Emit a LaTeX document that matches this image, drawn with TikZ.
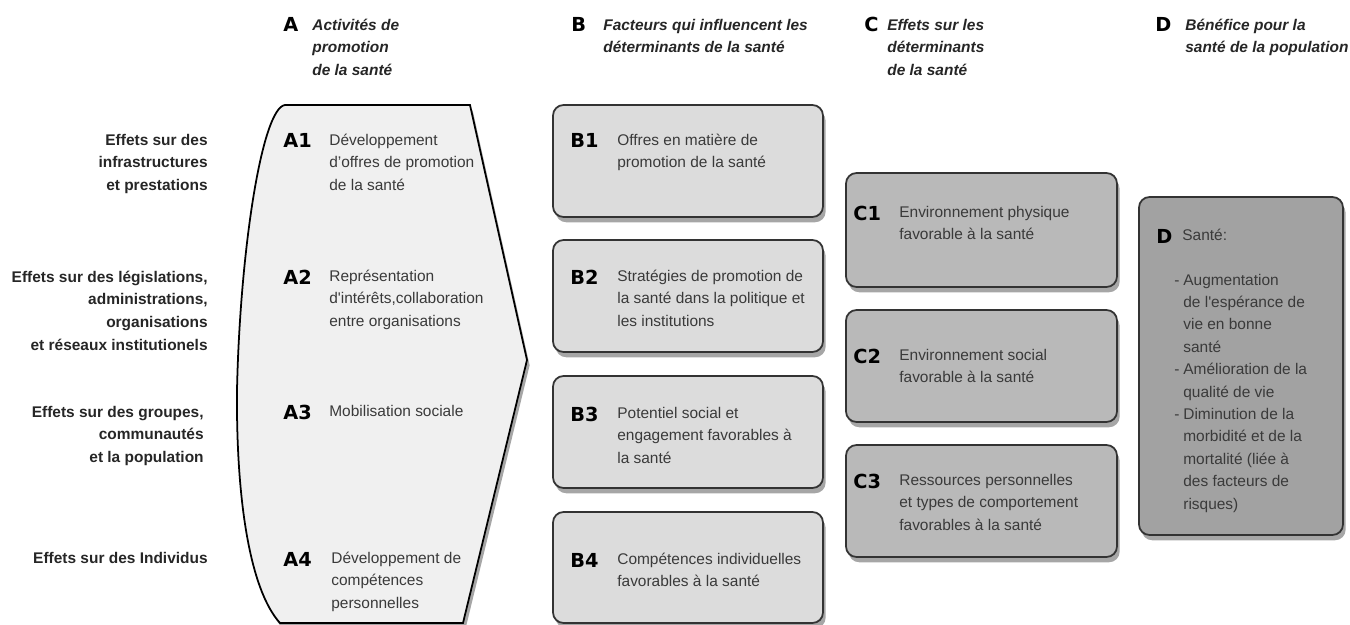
\documentclass[tikz,border=0pt]{standalone}
\usepackage{fontspec}
\setmainfont{Liberation Sans}
\newfontfamily\heavy{DejaVu Sans}
\usetikzlibrary{shadows,fit}
\definecolor{afill}{HTML}{F0F0F0}
\definecolor{bfill}{HTML}{DCDCDC}
\definecolor{cfill}{HTML}{B9B9B9}
\definecolor{dfill}{HTML}{A2A2A2}
\definecolor{txtgray}{HTML}{3A3A3A}
\definecolor{boxline}{HTML}{333333}
\tikzset{
  shad/.style={drop shadow={shadow xshift=1.5pt, shadow yshift=-3pt, opacity=0.35, fill=black}},
  box/.style={draw=boxline, line width=1pt, rounded corners=6pt, inner sep=0pt, shad},
  bbox/.style={box, fill=bfill},
  cbox/.style={box, fill=cfill},
  dbox/.style={box, fill=dfill},
  lab/.style={font=\heavy\bfseries\fontsize{11}{13}\selectfont, text=black, inner sep=0pt, anchor=base west},
  txt/.style={font=\fontsize{8.8}{13}\selectfont, text=txtgray, align=left, inner sep=0pt, anchor=base west},
  head/.style={font=\bfseries\itshape\fontsize{8.8}{13}\selectfont, text=black!85, align=left, inner sep=0pt, anchor=base west},
  side/.style={font=\bfseries\fontsize{8.8}{13}\selectfont, text=black!85, align=right, inner sep=0pt, anchor=base east},
}
\begin{document}
\begin{tikzpicture}[x=0.02cm, y=-0.02cm]
\useasboundingbox (0,0) rectangle (1350,625);

% Column headers (base anchor = last line)
\node[lab] (hA) at (283,32) {A};
\node[head] (hAt) at (312,75.7) {Activités de\\promotion\\de la santé};
\node[lab] (hB) at (571,32) {B};
\node[head] (hBt) at (603,52.9) {Facteurs qui influencent les\\déterminants de la santé};
\node[lab] (hC) at (864,32) {C};
\node[head] (hCt) at (887,75.7) {Effets sur les\\déterminants\\de la santé};
\node[lab] (hD) at (1155,32) {D};
\node[head] (hDt) at (1185,52.9) {Bénéfice pour la\\santé de la population};

% Row labels
\node[side] (r1) at (208,190.7) {Effets sur des\\infrastructures\\et prestations};
\node[side] (r2) at (208,350.6) {Effets sur des législations,\\administrations,\\organisations\\et réseaux institutionels};
\node[side] (r3) at (204,462.7) {Effets sur des groupes,\\communautés\\et la population};
\node[side] (r4) at (208,563) {Effets sur des Individus};

% Shape A
\draw[draw=black, line width=1pt, fill=afill, shad]
  (285,105) -- (470,105) -- (527,360) -- (463,623) -- (280,623)
  .. controls (250,590) and (236,500) .. (237,390)
  .. controls (240,250) and (262,108) .. (285,105) -- cycle;

\node[lab] (A1) at (283,148) {A1};
\node[txt] (A1t) at (329,190.7) {Développement\\d’offres de promotion\\de la santé};
\node[lab] (A2) at (283,284) {A2};
\node[txt] (A2t) at (329,326.7) {Représentation\\d\textquotesingle intérêts,collaboration\\entre organisations};
\node[lab] (A3) at (283,419) {A3};
\node[txt] (A3t) at (329,416) {Mobilisation sociale};
\node[lab] (A4) at (283,566) {A4};
\node[txt] (A4t) at (331,608.7) {Développement de\\compétences\\personnelles};

% B boxes
\node[bbox, fit={(553,105) (823,217)}] (B1) {};
\node[bbox, fit={(553,240) (823,352)}] (B2) {};
\node[bbox, fit={(553,376) (823,488)}] (B3) {};
\node[bbox, fit={(553,512) (823,623)}] (B4) {};
\node[lab] (B1l) at (570,148) {B1};
\node[txt] (B1t) at (617,167.9) {Offres en matière de\\promotion de la santé};
\node[lab] (B2l) at (570,284) {B2};
\node[txt] (B2t) at (617,326.7) {Stratégies de promotion de\\la santé dans la politique et\\les institutions};
\node[lab] (B3l) at (570,421) {B3};
\node[txt] (B3t) at (617,463.7) {Potentiel social et\\engagement favorables à\\la santé};
\node[lab] (B4l) at (570,567) {B4};
\node[txt] (B4t) at (617,586.9) {Compétences individuelles\\favorables à la santé};

% C boxes
\node[cbox, fit={(846,173) (1117,287)}] (C1) {};
\node[cbox, fit={(846,310) (1117,422)}] (C2) {};
\node[cbox, fit={(846,445) (1117,557)}] (C3) {};
\node[lab] (C1l) at (853,220) {C1};
\node[txt] (C1t) at (899,239.9) {Environnement physique\\favorable à la santé};
\node[lab] (C2l) at (853,363) {C2};
\node[txt] (C2t) at (899,382.9) {Environnement social\\favorable à la santé};
\node[lab] (C3l) at (853,488) {C3};
\node[txt] (C3t) at (899,530.7) {Ressources personnelles\\et types de comportement\\favorables à la santé};

% D box
\node[dbox, fit={(1139,197) (1343,535)}] (D) {};
\node[lab] (Dl) at (1156,243) {D};
\node[txt] (Dt) at (1182,240) {Santé:};
\node[txt] (d1) at (1174,285) {-};
\node[txt] (d2) at (1174,374.6) {-};
\node[txt] (d3) at (1174,419.5) {-};
\node[txt, font=\fontsize{8.8}{12.75}\selectfont] (Dlist) at (1183,509.1) {Augmentation\\de l\textquotesingle espérance de\\vie en bonne\\santé\\Amélioration de la\\qualité de vie\\Diminution de la\\morbidité et de la\\mortalité (liée à\\des facteurs de\\risques)};
\end{tikzpicture}
\end{document}
